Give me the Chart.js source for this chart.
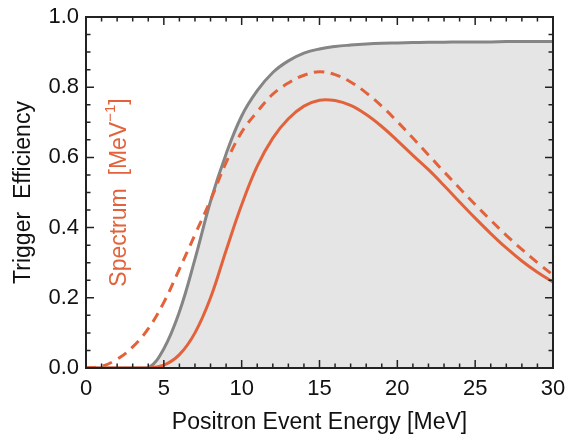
<!DOCTYPE html>
<html>
<head>
<meta charset="utf-8">
<script src="https://cdn.jsdelivr.net/npm/chart.js@4/dist/chart.umd.min.js"></script>
<style>
  html, body { margin: 0; padding: 0; background: #fff; }
  #wrap { width: 567px; height: 440px; }
</style>
</head>
<body>
<div id="wrap"><canvas id="effChart" width="567" height="440"></canvas></div>
<script>
// ── Data (E in MeV) ─────────────────────────────────────────────────────────
const energy    = [0, 1, 2, 3, 4, 5, 6, 7, 8, 9, 10, 11, 12, 13, 14, 15,
                   16, 17, 18, 19, 20, 21, 22, 23, 24, 25, 26, 27, 28, 29, 30];
const trigEff   = [0, 0, 0, 0, 0, 0.055, 0.16, 0.31, 0.475, 0.61, 0.718, 0.79, 0.842, 0.875, 0.897, 0.909,
                   0.916, 0.92, 0.923, 0.925, 0.926, 0.927, 0.928, 0.928, 0.929, 0.929, 0.929, 0.93, 0.93, 0.93, 0.93];
const specAll   = [0, 0.005, 0.025, 0.06, 0.112, 0.187, 0.282, 0.38, 0.478, 0.585, 0.672, 0.73, 0.78, 0.812, 0.834, 0.844,
                   0.836, 0.815, 0.784, 0.746, 0.702, 0.655, 0.607, 0.559, 0.512, 0.466, 0.421, 0.378, 0.338, 0.3, 0.265];
const specTrig  = [0, 0, 0, 0, 0, 0.008, 0.038, 0.1, 0.2, 0.335, 0.465, 0.575, 0.655, 0.71, 0.746, 0.763,
                   0.762, 0.748, 0.722, 0.688, 0.648, 0.606, 0.565, 0.52, 0.473, 0.427, 0.383, 0.342, 0.305, 0.273, 0.245];

const xTicks = [0, 5, 10, 15, 20, 25, 30];
const yTicks = [0, 0.2, 0.4, 0.6, 0.8, 1.0];

// ── Style ────────────────────────────────────────────────────────────────────
const ORANGE = '#e2633b';
const GREY   = '#858585';
const FILL   = '#e5e5e5';
const INK    = '#222';
const FONT   = "'Liberation Sans', Arial, sans-serif";

const pts = arr => energy.map((e, i) => ({ x: e, y: arr[i] }));

// inward ticks on all four sides + frame, and the orange second title
const frameTicks = {
  id: 'frameTicks',
  afterDatasetsDraw(chart) {
    const { ctx, chartArea: a, scales: { x, y } } = chart;
    ctx.save();
    ctx.strokeStyle = INK;
    ctx.lineWidth = 1.5;
    ctx.beginPath();
    for (let v = 0; v <= 30; v++) {
      const px = x.getPixelForValue(v);
      const len = v % 5 === 0 ? 8 : 4.5;
      ctx.moveTo(px, a.bottom); ctx.lineTo(px, a.bottom - len);
      ctx.moveTo(px, a.top);    ctx.lineTo(px, a.top + len);
    }
    for (let k = 0; k <= 20; k++) {
      const py = y.getPixelForValue(k * 0.05);
      const len = k % 4 === 0 ? 8 : 4.5;
      ctx.moveTo(a.left, py);  ctx.lineTo(a.left + len, py);
      ctx.moveTo(a.right, py); ctx.lineTo(a.right - len, py);
    }
    ctx.stroke();
    ctx.lineWidth = 2;
    ctx.strokeRect(a.left, a.top, a.right - a.left, a.bottom - a.top);
    ctx.restore();
  },
  afterDraw(chart) {
    const { ctx, chartArea: a } = chart;
    const big = '23px ' + FONT, small = '15px ' + FONT;
    const parts = [['Spectrum  [MeV', big, 0], ['\u22121', small, -9], [']', big, 0]];
    ctx.save();
    let total = 0;
    parts.forEach(p => { ctx.font = p[1]; total += ctx.measureText(p[0]).width; });
    ctx.translate(120, (a.top + a.bottom) / 2);
    ctx.rotate(-Math.PI / 2);
    ctx.fillStyle = ORANGE;
    ctx.textBaseline = 'middle';
    let cx = -total / 2;
    parts.forEach(p => {
      ctx.font = p[1];
      ctx.fillText(p[0], cx, p[2]);
      cx += ctx.measureText(p[0]).width;
    });
    ctx.restore();
  }
};

const noPad = s => { s.paddingLeft = 0; s.paddingRight = 0; s.paddingTop = 0; s.paddingBottom = 0; };

new Chart(document.getElementById('effChart').getContext('2d'), {
  type: 'line',
  data: {
    datasets: [
      {
        label: 'Spectrum (triggered)',
        data: pts(specTrig),
        borderColor: ORANGE,
        borderWidth: 3,
        pointRadius: 0,
        fill: false,
        tension: 0.4,
        order: 1,
      },
      {
        label: 'Spectrum',
        data: pts(specAll),
        borderColor: ORANGE,
        borderWidth: 3,
        borderDash: [10, 7],
        pointRadius: 0,
        fill: false,
        tension: 0.4,
        order: 2,
      },
      {
        label: 'Trigger efficiency',
        data: pts(trigEff),
        borderColor: GREY,
        backgroundColor: FILL,
        borderWidth: 3,
        pointRadius: 0,
        fill: 'origin',
        tension: 0.4,
        order: 3,
      },
    ],
  },
  options: {
    responsive: false,
    animation: false,
    layout: { padding: { top: 17, right: 14, left: 0, bottom: 0 } },
    plugins: { legend: { display: false }, tooltip: { enabled: false } },
    scales: {
      x: {
        type: 'linear',
        min: 0, max: 30,
        afterBuildTicks: s => { s.ticks = xTicks.map(v => ({ value: v })); },
        afterFit: s => { s.height = 72; noPad(s); },
        grid: { display: false, drawTicks: false },
        border: { display: false },
        ticks: { color: '#111', padding: 8, font: { family: FONT, size: 22 }, maxRotation: 0 },
        title: {
          display: true,
          text: 'Positron Event Energy [MeV]',
          color: '#111',
          font: { family: FONT, size: 23 },
          padding: { top: 0, bottom: 4 },
        },
      },
      y: {
        min: 0, max: 1,
        afterBuildTicks: s => { s.ticks = yTicks.map(v => ({ value: v })); },
        afterFit: s => { s.width = 86; noPad(s); },
        grid: { display: false, drawTicks: false },
        border: { display: false },
        ticks: { color: '#111', padding: 7, font: { family: FONT, size: 22 }, callback: v => v.toFixed(1) },
        title: {
          display: true,
          text: 'Trigger  Efficiency',
          color: '#111',
          font: { family: FONT, size: 23 },
          padding: { top: 10, bottom: 0 },
        },
      },
    },
  },
  plugins: [frameTicks],
});
</script>
</body>
</html>
